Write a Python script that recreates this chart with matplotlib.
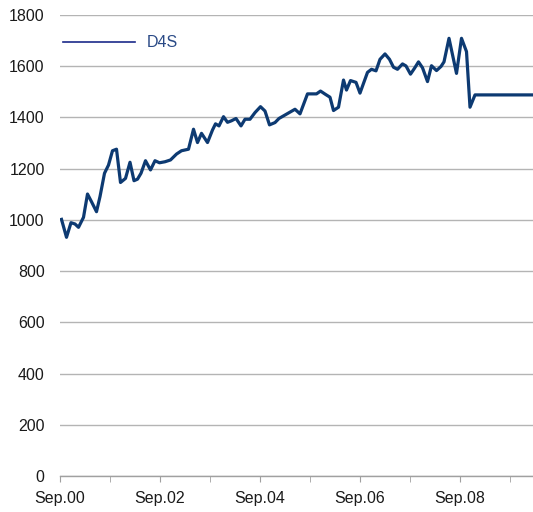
import matplotlib
matplotlib.use("Agg")
import matplotlib.pyplot as plt
from matplotlib.lines import Line2D

# years since Sep.2000, index level
years = [0.03, 0.13, 0.22, 0.30, 0.37, 0.47, 0.55, 0.63, 0.73, 0.80,
         0.89, 0.97, 1.05, 1.13, 1.21, 1.31, 1.40, 1.48, 1.55, 1.62,
         1.71, 1.81, 1.90, 1.99, 2.10, 2.21, 2.33, 2.43, 2.57, 2.67,
         2.75, 2.83, 2.95, 3.05, 3.11, 3.18, 3.27, 3.35, 3.43, 3.52,
         3.62, 3.70, 3.80, 3.90, 4.01, 4.10, 4.19, 4.30, 4.38, 4.70,
         4.80, 4.95, 5.05, 5.13, 5.21, 5.31, 5.40, 5.47, 5.57, 5.67,
         5.73, 5.81, 5.92, 6.00, 6.07, 6.15, 6.23, 6.32, 6.40, 6.50,
         6.59, 6.67, 6.75, 6.85, 6.92, 7.01, 7.09, 7.17, 7.25, 7.35,
         7.43, 7.53, 7.62, 7.68, 7.78, 7.93, 8.03, 8.13, 8.20, 8.30,
         9.46]
level = [1002, 932, 989, 984, 971, 1010, 1101, 1071, 1032, 1091,
         1182, 1214, 1270, 1276, 1146, 1162, 1225, 1153, 1159, 1182,
         1231, 1195, 1231, 1223, 1227, 1234, 1257, 1270, 1276, 1354,
         1302, 1338, 1302, 1351, 1375, 1367, 1403, 1381, 1387, 1396,
         1367, 1393, 1393, 1419, 1442, 1425, 1371, 1380, 1396, 1432,
         1414, 1492, 1492, 1492, 1503, 1490, 1479, 1427, 1440, 1546,
         1507, 1544, 1537, 1495, 1533, 1576, 1588, 1582, 1627, 1648,
         1627, 1596, 1588, 1609, 1601, 1569, 1592, 1617, 1594, 1540,
         1602, 1583, 1599, 1617, 1709, 1572, 1709, 1657, 1440, 1488,
         1488]

series_name = "D4S"
xticks = [0, 2, 4, 6, 8]
xticklabels = ["Sep.00", "Sep.02", "Sep.04", "Sep.06", "Sep.08"]
yticks = [0, 200, 400, 600, 800, 1000, 1200, 1400, 1600, 1800]

plt.rcParams['font.family'] = ['Liberation Sans', 'DejaVu Sans']

fig = plt.figure(figsize=(5.33, 5.12), dpi=100)
ax = fig.add_axes([60/533, 36/512, 473/533, 461/512])

ax.plot(years, level, color='#0d3a72', lw=2.3, solid_joinstyle='round')

ax.set_xlim(0, 9.46)
ax.set_ylim(0, 1800)
ax.set_yticks(yticks)
ax.set_xticks(xticks)
ax.set_xticklabels(xticklabels)
ax.set_xticks([1, 3, 5, 7, 9], minor=True)

ax.grid(axis='y', color='#b4b4b4', lw=1.0)
ax.set_axisbelow(True)
for s in ['top', 'right', 'left']:
    ax.spines[s].set_visible(False)
ax.spines['bottom'].set_color('#a0a0a0')
ax.spines['bottom'].set_linewidth(1.0)

ax.tick_params(axis='y', length=0, pad=11, labelsize=11.5, labelcolor='#1a1a1a')
ax.tick_params(axis='x', which='both', direction='out', length=4, color='#a0a0a0',
               pad=7, labelsize=11.5, labelcolor='#1a1a1a')

handle = Line2D([], [], color='#1b2a8a', lw=1.2)
ax.legend([handle], [series_name], loc='center left', bbox_to_anchor=(0.006, 0.94),
          frameon=False, borderpad=0, borderaxespad=0, handlelength=4.5,
          handletextpad=0.75, labelcolor='#2a4a86', fontsize=11.5)

fig.savefig('out.png', dpi=100)
